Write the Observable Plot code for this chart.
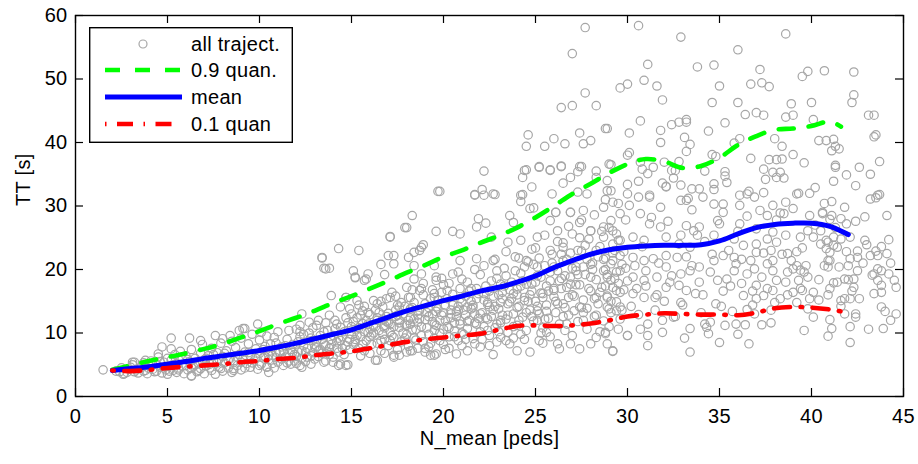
<!DOCTYPE html>
<html>
<head>
<meta charset="utf-8">
<script src="https://cdn.jsdelivr.net/npm/d3@7"></script>
<script src="https://cdn.jsdelivr.net/npm/@observablehq/plot@0.6"></script>
<style>
  body { margin: 0; background: #fff; }
  #wrap { position: relative; width: 918px; height: 464px; font-family: "Liberation Sans", Arial, Helvetica, sans-serif; }
  #legend { position: absolute; left: 89px; top: 27px; }
  svg text { letter-spacing: 0.3px; }
</style>
</head>
<body>
<div id="wrap"><div id="chart"></div><div id="legend"></div></div>
<script>
// ---- tick labels / axes ----
const xTicks = [0, 5, 10, 15, 20, 25, 30, 35, 40, 45];
const yTicks = [0, 10, 20, 30, 40, 50, 60];
const xLabel = "N_mean [peds]";
const yLabel = "TT [s]";
const seriesNames = ["all traject.", "0.9 quan.", "mean", "0.1 quan"];

// ---- curves ----
const meanX = [2,3,4,5,6,7,8,9,10,11,12,13,14,15,16,17,18,19,20,21,22,23,24,25,26,27,28,29,30,31,32,33,34,35,36,37,38,39,40,41,42];
const meanY = [4.1,4.4,4.7,5.1,5.5,6.0,6.4,6.8,7.25,7.8,8.4,9.1,9.8,10.5,11.5,12.5,13.5,14.3,15.1,15.8,16.6,17.2,18.0,19.0,20.3,21.4,22.4,23.1,23.5,23.7,23.8,23.8,23.9,24.5,25.6,26.6,27.1,27.3,27.3,26.8,25.5];

const q90X = [2,3,4,5,6,7,8,9,10,11,12,13,14,15,16,17,18,19,20,21,22,23,24,25,26,27,28,29,30,31,32,33,34,35,36,37,38,39,40,41,41.6];
const q90Y = [4.2,4.9,5.6,6.2,6.8,7.5,8.3,9.3,10.3,11.4,12.4,13.5,14.7,15.8,17.0,18.2,19.5,20.7,22.0,23.0,24.2,25.3,26.6,28.2,30.0,31.9,33.5,35.2,36.6,37.4,37.0,36.0,36.3,37.6,39.6,41.0,42.0,42.2,42.6,43.3,42.5];

const q10X = [2,3,4,5,6,7,8,9,10,11,12,13,14,15,16,17,18,19,20,21,22,23,24,25,26,27,28,29,30,31,32,33,34,35,36,37,38,39,40,41,41.8];
const q10Y = [4.1,4.0,4.2,4.5,4.7,4.9,5.1,5.4,5.6,5.9,6.1,6.5,6.8,7.1,7.6,8.1,8.6,9.0,9.3,9.6,9.9,10.5,11.1,11.2,11.1,11.2,11.5,12.0,12.6,12.9,13.1,13.0,12.9,12.9,12.8,13.2,13.9,14.1,14.0,13.7,13.3];

// ---- scatter: all trajectories, [N_mean, TT] ----
const ptsLow = [
[1.5,4.2],[2.2,4.0],[2.4,3.9],[2.5,4.5],[2.6,3.5],[2.65,3.6],[2.8,3.8],[2.9,4.3],[3.0,4.6],[3.1,5.0],[3.1,5.4],[3.2,3.9],[3.2,5.4],[3.3,4.2],[3.4,3.7],[3.5,4.5],[3.6,4.8],[3.7,5.3],[3.7,4.0],[3.8,4.1],[3.8,5.7],[3.9,3.6],[4.0,4.9],[4.0,4.4],[4.1,5.6],[4.2,4.3],[4.2,5.0],[4.3,3.9],[4.4,5.1],[4.4,4.0],[4.5,6.2],[4.5,6.7],[4.6,4.6],[4.6,5.5],[4.7,3.7],[4.7,7.8],[4.8,5.4],[4.8,4.5],[4.9,4.2],[5.0,6.0],[5.0,3.5],[5.1,4.8],[5.1,4.0],[5.2,5.7],[5.2,9.2],[5.2,7.5],[5.3,4.1],[5.3,5.0],[5.4,6.6],[5.5,3.8],[5.5,5.2],[5.6,4.5],[5.6,4.2],[5.7,7.1],[5.8,5.9],[5.8,4.8],[5.9,3.6],[6.0,4.9],[6.0,6.4],[6.1,4.2],[6.1,5.8],[6.2,5.5],[6.2,9.2],[6.3,7.4],[6.3,3.3],[6.3,4.5],[6.3,3.2],[6.4,4.7],[6.5,6.0],[6.5,5.0],[6.6,3.9],[6.7,5.2],[6.7,4.1],[6.8,6.8],[6.8,4.4],[6.8,8.8],[6.9,8.2],[6.9,5.5],[7.0,5.8],[7.0,3.6],[7.1,4.8],[7.1,6.0],[7.2,6.4],[7.3,5.1],[7.3,4.5],[7.4,7.6],[7.4,4.1],[7.5,5.6],[7.5,6.6],[7.6,3.5],[7.6,9.6],[7.7,6.9],[7.7,5.3],[7.8,4.6],[7.8,5.9],[7.9,8.4],[7.9,4.4],[8.0,4.0],[8.0,6.3],[8.0,9.1],[8.1,5.3],[8.1,6.8],[8.2,7.2],[8.3,4.5],[8.3,5.7],[8.4,6.0],[8.4,9.6],[8.5,8.7],[8.5,3.8],[8.6,5.6],[8.6,4.1],[8.6,4.4],[8.7,7.7],[8.8,4.9],[8.8,6.2],[8.9,6.6],[8.9,10.4],[9.0,9.2],[9.0,4.2],[9.0,5.4],[9.1,5.9],[9.1,10.7],[9.2,7.0],[9.2,10.7],[9.2,4.5],[9.3,5.2],[9.4,8.3],[9.4,6.9],[9.5,4.6],[9.5,6.4],[9.6,9.8],[9.6,5.3],[9.7,5.6],[9.8,7.5],[9.8,6.0],[9.9,4.3],[9.9,11.4],[10.0,6.8],[10.0,8.9],[10.0,4.9],[10.1,5.1],[10.1,10.1],[10.2,6.1],[10.2,7.4],[10.3,7.9],[10.4,4.7],[10.4,9.5],[10.4,4.6],[10.5,5.8],[10.5,3.8],[10.5,6.5],[10.6,7.2],[10.7,6.5],[10.7,5.2],[10.8,4.5],[10.8,9.3],[10.9,8.4],[10.9,7.0],[11.0,5.4],[11.0,10.2],[11.1,6.9],[11.2,7.8],[11.2,5.9],[11.3,4.9],[11.4,6.2],[11.4,8.0],[11.5,9.0],[11.6,5.6],[11.6,10.4],[11.6,6.8],[11.7,7.4],[11.7,5.1],[11.8,8.2],[11.9,6.6],[11.9,5.6],[12.0,10.6],[12.0,5.2],[12.1,7.0],[12.1,8.6],[12.2,9.4],[12.2,4.9],[12.2,11.2],[12.3,6.0],[12.3,13.0],[12.3,4.6],[12.3,7.2],[12.4,8.0],[12.5,5.5],[12.6,7.6],[12.6,6.2],[12.7,10.0],[12.7,11.7],[12.8,6.4],[12.8,5.1],[12.8,9.2],[12.9,8.8],[13.0,5.9],[13.0,7.8],[13.1,11.2],[13.1,7.8],[13.2,7.2],[13.2,12.0],[13.2,6.3],[13.3,9.6],[13.4,6.8],[13.4,9.0],[13.5,8.3],[13.5,5.4],[13.6,5.6],[13.6,8.0],[13.7,10.4],[13.8,7.6],[13.8,12.8],[13.8,6.6],[13.9,9.0],[13.9,15.9],[14.0,6.2],[14.0,9.6],[14.0,5.4],[14.1,12.0],[14.2,8.6],[14.2,7.6],[14.3,7.0],[14.3,4.9],[14.4,10.9],[14.4,8.8],[14.4,14.1],[14.4,5.1],[14.5,9.4],[14.6,6.6],[14.6,10.2],[14.7,8.0],[14.7,15.6],[14.7,4.9],[14.8,11.6],[14.8,8.6],[14.8,5.0],[14.9,7.4],[15.0,9.8],[15.0,13.0],[15.0,11.0]
];

const ptsHighLeft = [
[13.4,21.9],[13.4,21.8],[13.5,20.2],[13.6,20.1],[13.8,20.2],[14.3,23.3],[15.4,23.0],[15.1,19.8],[15.2,18.8],[15.2,18.7],[15.9,19.3],[15.7,18.3],[15.8,18.5],[16.8,19.2],[16.6,20.8],[17.0,22.2],[17.3,22.2],[17.3,20.9],[17.1,25.2],[17.1,25.1],[17.9,26.6],[18.0,26.6],[18.3,28.5],[18.1,21.9],[18.4,22.7],[18.8,23.5],[18.9,23.9],[18.4,18.5],[18.8,19.3],[19.6,26.0],[19.6,18.3],[19.7,32.3],[19.8,32.3],[20.5,26.0],[20.9,25.6],[21.7,31.8],[21.7,31.7],[22.1,32.6],[22.2,31.7],[22.2,35.5],[22.7,31.9],[22.8,31.8],[21.8,26.7],[21.9,28.0],[22.3,27.3],[22.6,25.1],[23.5,24.3],[23.6,28.5],[23.8,27.4],[18.7,23.0],[18.4,20.6],[19.5,20.6],[20.9,21.4],[21.8,21.7],[22.7,21.4],[15.3,15.1],[14.7,15.6]
];

const ptsMid = [
[15.1,8.2],[15.2,10.6],[15.2,9.0],[15.3,12.4],[15.4,7.6],[15.4,10.8],[15.5,9.4],[15.6,11.5],[15.6,13.5],[15.6,8.2],[15.7,14.2],[15.7,7.2],[15.8,8.8],[15.8,12.0],[15.9,10.1],[16.0,12.9],[16.0,6.8],[16.0,9.4],[16.1,9.7],[16.2,11.1],[16.2,15.1],[16.2,10.0],[16.3,13.6],[16.3,5.7],[16.4,8.4],[16.4,12.0],[16.4,5.7],[16.4,12.4],[16.5,10.4],[16.6,15.0],[16.6,7.2],[16.6,8.8],[16.7,12.2],[16.7,14.1],[16.8,9.0],[16.8,10.8],[16.9,11.8],[17.0,13.1],[17.0,8.0],[17.0,11.6],[17.1,10.2],[17.1,15.6],[17.1,11.4],[17.2,16.4],[17.2,9.6],[17.3,9.3],[17.3,6.2],[17.3,6.5],[17.4,12.6],[17.4,13.6],[17.5,7.4],[17.5,14.4],[17.6,10.9],[17.6,14.1],[17.6,6.5],[17.6,12.0],[17.7,8.6],[17.8,13.0],[17.8,10.0],[17.9,11.4],[18.0,9.8],[18.0,17.2],[18.0,11.2],[18.1,7.9],[18.1,15.6],[18.2,12.4],[18.2,15.6],[18.2,11.4],[18.2,7.2],[18.2,13.8],[18.3,10.5],[18.3,7.2],[18.4,14.8],[18.4,9.2],[18.5,8.9],[18.6,11.7],[18.6,13.5],[18.6,12.8],[18.7,13.6],[18.7,16.7],[18.8,9.6],[18.8,17.0],[18.8,11.0],[18.9,16.0],[19.0,7.6],[19.0,12.1],[19.0,14.6],[19.1,10.8],[19.2,14.0],[19.2,9.8],[19.3,8.4],[19.3,6.5],[19.4,13.0],[19.4,11.8],[19.5,9.2],[19.5,16.2],[19.5,15.6],[19.5,11.4],[19.5,6.5],[19.6,11.2],[19.6,14.1],[19.6,18.8],[19.6,13.4],[19.6,6.7],[19.7,15.2],[19.8,10.0],[19.8,12.0],[19.9,12.8],[20.0,8.2],[20.0,17.6],[20.0,10.6],[20.1,14.3],[20.2,11.0],[20.2,16.7],[20.2,15.4],[20.3,9.4],[20.4,12.4],[20.4,13.0],[20.4,13.6],[20.5,16.1],[20.5,19.3],[20.6,10.3],[20.6,11.6],[20.7,13.4],[20.7,6.7],[20.8,8.8],[20.8,14.2],[20.9,11.9],[20.9,15.4],[20.9,11.4],[21.0,14.9],[21.0,18.5],[21.0,10.0],[21.1,9.8],[21.2,12.8],[21.2,15.8],[21.3,10.7],[21.3,14.1],[21.3,7.2],[21.4,16.6],[21.4,12.0],[21.5,13.8],[21.5,17.0],[21.6,9.1],[21.6,14.4],[21.7,11.6],[21.7,8.3],[21.8,15.4],[21.8,11.4],[21.8,17.0],[21.9,12.3],[22.0,10.2],[22.0,19.2],[22.0,13.0]
];

const ptsMid2 = [
[22.1,13.2],[22.2,11.0],[22.2,15.2],[22.2,16.2],[22.3,17.4],[22.4,14.5],[22.4,12.2],[22.5,9.6],[22.5,14.1],[22.5,8.0],[22.6,12.6],[22.6,18.2],[22.7,15.8],[22.7,6.6],[22.8,10.8],[22.8,14.2],[22.9,18.6],[22.9,19.8],[23.0,13.8],[23.0,16.0],[23.1,11.6],[23.1,17.7],[23.1,12.0],[23.1,9.3],[23.2,16.4],[23.2,12.8],[23.3,20.2],[23.4,12.2],[23.4,19.0],[23.5,10.1],[23.5,14.6],[23.6,14.9],[23.6,16.8],[23.6,8.3],[23.7,18.0],[23.8,13.0],[23.8,11.0],[23.8,16.2],[23.9,22.0],[24.0,11.2],[24.0,16.9],[24.0,14.0],[24.0,7.2],[24.1,14.2],[24.2,19.4],[24.2,17.4],[24.2,24.6],[24.3,12.5],[24.4,15.6],[24.4,20.4],[24.4,15.1],[24.5,10.4],[24.5,21.4],[24.5,17.7],[24.6,21.2],[24.6,15.0],[24.7,13.6],[24.7,7.0],[24.7,29.6],[24.8,17.7],[24.8,12.6],[24.9,11.9],[24.9,29.7],[25.0,15.0],[25.0,23.4],[25.0,18.0],[25.1,19.0],[25.1,25.1],[25.1,20.4],[25.1,13.5],[25.1,12.0],[25.2,13.0],[25.2,21.8],[25.2,8.8],[25.3,16.3],[25.4,10.8],[25.4,16.2],[25.4,15.6],[25.4,8.4],[25.5,20.6],[25.6,14.4],[25.6,13.4],[25.6,10.1],[25.7,12.3],[25.8,18.2],[25.8,19.6],[25.8,23.0],[25.8,27.7],[25.9,22.4],[26.0,15.7],[26.0,17.0],[26.0,20.4],[26.0,16.7],[26.1,13.2],[26.1,29.0],[26.2,19.8],[26.2,14.6],[26.2,26.1],[26.2,8.3],[26.3,11.4],[26.3,7.5],[26.4,17.0],[26.4,22.4],[26.5,24.2],[26.5,23.5],[26.5,21.4],[26.5,14.6],[26.6,14.0],[26.6,19.0],[26.7,21.6],[26.7,11.4],[26.8,12.8],[26.8,15.6],[26.9,18.8],[26.9,17.7],[26.9,29.0],[26.9,8.3],[27.0,16.0],[27.0,25.6],[27.0,20.2],[27.1,13.5],[27.2,20.4],[27.2,17.6],[27.3,11.8],[27.3,23.0],[27.4,17.6],[27.4,25.0],[27.4,27.4],[27.4,14.1],[27.4,7.5],[27.5,22.9],[27.6,15.2],[27.6,13.2],[27.6,20.4],[27.6,12.0],[27.6,29.3],[27.7,19.2],[27.8,13.9],[27.8,21.6],[27.9,24.8],[28.0,16.6],[28.0,18.8],[28.0,26.1],[28.0,8.3],[28.1,21.0],[28.2,12.6],[28.2,15.4],[28.3,18.4],[28.3,23.0],[28.3,15.6],[28.3,9.3],[28.4,14.6],[28.4,22.0],[28.5,23.6],[28.6,17.2],[28.6,26.0],[28.7,11.9],[28.7,26.7],[28.7,19.8],[28.7,25.1],[28.7,29.8],[28.8,20.0],[28.8,17.4],[28.8,10.1],[28.8,9.9],[28.9,15.8],[28.9,14.1],[28.9,18.8],[28.9,15.6],[28.9,8.3],[29.0,26.6],[29.0,13.8],[29.1,13.2],[29.1,18.3],[29.1,20.9],[29.1,27.7],[29.2,22.6],[29.2,24.0],[29.2,21.4],[29.2,17.2],[29.2,26.1],[29.2,7.2],[29.2,7.1],[29.3,18.6],[29.4,14.9],[29.4,19.6],[29.4,16.7],[29.4,13.5],[29.4,25.6],[29.5,24.6],[29.6,12.2],[29.6,16.4],[29.6,14.1],[29.6,19.8],[29.6,24.6],[29.6,28.8],[29.7,20.8],[29.8,16.8],[29.8,22.8],[29.9,27.8],[30.0,18.2],[30.0,9.6]
];

const ptsCore = [
[10.3,6.3],[10.6,8.3],[10.9,6.1],[11.3,7.2],[11.5,5.3],[11.8,7.0],[12.0,6.3],[12.4,9.8],[12.5,7.0],[12.9,6.9],[13.1,8.6],[13.3,7.4],[13.5,10.2],[13.7,7.0],[13.9,8.2],[14.1,10.6],[14.3,9.2],[14.5,7.6],[14.7,12.4],[14.9,9.0],
[15.1,11.8],[15.3,9.6],[15.5,12.8],[15.7,10.2],[15.9,11.4],[16.1,8.2],[16.3,11.0],[16.5,13.2],[16.7,9.8],[16.9,12.6],[17.1,8.8],[17.3,11.0],[17.5,12.8],[17.7,14.8],[17.9,9.2],[18.1,12.0],[18.3,14.0],[18.5,10.6],[18.7,12.2],[18.9,8.6],[19.1,13.2],[19.3,15.4],[19.5,10.4],[19.7,13.8],[19.9,16.4],[20.1,12.0],[20.3,10.8],[20.5,14.4],[20.7,12.6],[20.9,17.0],[21.1,13.6],[21.3,11.8],[21.5,15.0],[21.7,13.0],[21.9,16.2],[22.1,9.0],[21.2,9.0],[20.6,9.4],[19.8,8.8],[19.2,7.8],[18.6,7.6],
[22.3,12.4],[22.5,16.6],[22.7,13.6],[22.9,11.4],[23.1,14.8],[23.3,17.4],[23.5,12.8],[23.7,15.4],[23.9,19.8],[24.1,12.0],[24.3,18.2],[24.5,13.2],[24.7,16.0],[24.9,20.8],[25.1,14.2],[25.3,18.8],[25.5,12.2],[25.7,16.6],[25.9,21.0],[26.1,15.0],[26.3,18.2],[26.5,12.6],[26.7,17.2],[26.9,22.6],[27.1,15.8],[27.3,19.2],[27.5,14.0],[27.7,23.8],[27.9,17.0],[28.1,20.0],[28.3,12.8],[28.5,16.4],[28.7,21.6],[28.9,19.2],[29.1,15.0],[29.3,23.0],[29.5,17.8],[29.7,13.6],[29.9,20.2],[23.0,10.2],[24.2,9.8],[25.3,10.0],[26.6,10.4],[27.8,10.6],[29.0,11.0],[22.4,10.4],[23.8,9.2],
[30.5,17.0],[31.0,19.8],[31.6,16.0],[32.3,18.0],[32.9,14.8],[33.5,20.6],[34.1,16.0],[34.6,22.4],[35.1,14.2],[35.6,17.4],[36.2,21.6],[36.8,16.6],[37.4,22.6],[38.0,14.8],[38.6,18.0],[39.2,22.8],[39.8,13.8],[40.4,18.4],[40.9,16.0],[30.7,10.6],[31.9,12.0],[33.1,9.2],[34.2,11.4],[36.0,9.8],[37.8,11.6],[39.6,10.4]
];

const ptsBand = [
[12.2,10.2],[12.9,10.8],[13.6,11.6],[14.2,11.4],[14.9,13.8],[15.4,14.4],[15.9,13.2],[16.4,14.6],[16.9,15.4],[17.4,15.8],[17.9,14.2],[18.3,16.8],[18.9,17.8],[19.4,16.8],[19.9,18.6],[20.3,17.8],[20.8,19.6],[21.3,18.0],[21.7,20.0],[22.2,20.6],[22.8,21.6],[23.4,22.8],[24.1,21.8],[24.8,23.2],[25.5,25.4],[26.2,24.4],[26.8,26.8],[27.5,27.8],[28.2,28.6],[28.8,31.0],[29.5,30.4],
[15.5,6.4],[16.8,6.8],[18.0,7.0],[19.0,7.0],[20.3,7.6],[21.0,8.0],[22.0,7.8],[22.9,8.6],[24.4,9.0],[25.8,9.4],[27.0,9.6],[28.5,10.2],[29.5,10.6],[20.1,7.4],[23.4,8.8],
[15.2,8.6],[16.0,10.6],[16.8,11.2],[17.6,11.6],[18.4,12.2],[19.2,12.6],[20.0,13.2],[20.8,13.6],[21.6,14.0],[22.4,14.8],[23.2,15.4],[24.0,16.0],[24.8,16.6],[25.6,17.4],[26.4,18.6],[27.2,19.8],[28.0,20.8],[28.8,21.8],[29.6,22.2]
];

const ptsHighMid = [
[24.3,31.8],[24.2,31.7],[24.2,30.7],[24.3,34.5],[24.4,35.6],[24.5,35.7],[24.5,39.4],[24.6,41.2],[24.8,33.0],[25.2,36.1],[25.2,36.2],[25.5,39.4],[25.8,35.7],[25.8,35.6],[25.9,31.9],[26.0,40.6],[26.1,29.0],[26.4,36.3],[26.4,36.2],[26.4,45.5],[26.5,33.6],[26.6,39.8],[26.9,34.5],[26.9,29.0],[27.0,45.8],[27.0,54.0],[27.3,35.4],[27.3,32.2],[27.4,41.5],[27.4,36.2],[27.5,36.2],[27.6,39.8],[27.7,47.8],[27.7,58.1],[27.8,31.9],[28.0,40.3],[28.0,26.1],[28.3,45.8],[28.3,35.5],[28.3,34.5],[28.8,42.2],[28.9,42.2],[28.9,32.4],[28.9,34.0],[29.0,36.6],[29.1,36.5],[29.1,32.4],[29.2,30.6],[29.6,48.6],[30.0,49.2],[30.0,38.0],[30.1,38.4],[30.1,41.5],[30.0,33.4],[30.0,31.9],[30.1,30.1],[30.6,58.4],[30.6,33.9],[30.6,31.4],[30.7,43.4],[30.7,36.9],[30.7,28.8],[30.8,35.8],[30.9,49.8],[31.1,52.3],[31.1,35.1],[31.2,31.4],[31.2,31.7],[31.4,36.1],[31.6,48.9],[31.8,41.9],[31.8,40.0],[31.8,29.8],[31.9,46.7],[31.9,33.6],[32.0,36.9],[32.1,33.1],[32.1,33.0],[32.4,42.8],[32.4,35.6],[32.5,34.4],[32.6,35.6],[32.8,43.2],[32.8,37.0],[32.9,56.6],[32.9,33.3],[32.9,30.9],[33.1,40.8],[33.2,43.6],[33.2,43.2],[33.2,38.6],[33.2,30.9],[33.3,31.2],[33.4,39.7],[33.5,32.7],[33.8,51.9],[33.9,32.7],[34.1,31.4],[34.2,35.5],[34.4,41.8],[34.6,46.3],[34.6,38.1],[34.7,52.2],[34.7,33.5],[34.7,32.6],[34.7,30.3],[34.8,37.8],[35.0,48.9],[35.2,30.3],[35.3,43.1],[35.3,35.4],[35.3,34.7],[35.4,33.7],[35.8,39.9],[36.0,54.6],[36.0,46.3],[36.1,40.6],[36.1,31.7],[36.1,30.1],[36.4,44.4],[36.5,31.9],[36.6,32.3],[36.7,49.2],[36.7,37.5],[36.9,31.4],[37.0,44.7],[37.2,51.5],[37.2,29.3],[37.3,49.4],[37.4,44.3],[37.4,35.8],[37.4,32.1],[37.5,34.2],[37.7,48.8],[37.7,37.3],[37.9,35.3],[37.9,30.1],[38.0,40.6],[38.1,37.3],[38.1,34.5],[38.3,35.3],[38.4,37.4],[38.4,39.4],[38.5,34.4],[38.6,57.1],[38.6,44.0],[38.6,30.6],[38.9,46.1],[39.0,44.3],[39.0,38.1],[39.2,31.9],[39.3,32.0],[39.5,50.4],[39.6,36.8],[39.8,51.2],[39.9,32.0],[40.0,46.3],[40.1,43.6],[40.2,32.9],[40.4,40.3],[40.6,29.0],[40.7,51.3],[40.8,40.3],[41.0,27.9],[41.1,38.7],[41.1,30.7],[41.2,40.5],[41.3,39.4],[41.3,36.1],[41.3,36.4],[41.2,33.9],[41.5,39.0],[41.9,34.9],[42.2,46.3],[42.3,47.5],[42.3,51.1],[42.4,33.2],[42.4,27.6],[42.6,36.1],[42.9,28.3],[43.1,44.3],[43.2,35.0],[43.2,31.1],[43.4,44.3],[43.4,40.9],[43.5,41.2],[43.5,31.3],[43.6,31.7],[43.7,37.0],[43.7,31.8],[44.1,28.5]
];

const ptsRight = [
[30.0,9.6],[30.2,14.2],[30.3,16.2],[30.3,18.8],[30.3,21.9],[30.3,25.1],[30.4,20.6],[30.6,12.9],[30.8,23.6],[30.9,15.6],[30.9,18.3],[30.9,21.4],[30.9,24.6],[31.0,17.4],[31.1,8.0],[31.1,9.6],[31.1,11.4],[31.2,27.2],[31.3,28.2],[31.4,21.7],[31.5,13.6],[31.5,15.6],[31.6,18.8],[31.7,21.0],[31.8,26.7],[31.9,10.1],[32.0,15.0],[32.1,17.2],[32.1,20.4],[32.1,22.2],[32.1,25.1],[32.2,27.6],[32.4,19.0],[32.5,12.5],[32.6,12.6],[32.7,21.9],[32.8,17.5],[32.8,24.0],[32.9,19.3],[32.9,25.4],[33.0,14.4],[33.2,16.7],[33.2,22.0],[33.2,26.9],[33.4,7.0],[33.4,10.7],[33.4,19.8],[33.4,23.5],[33.5,29.4],[33.6,26.1],[33.7,16.2],[33.8,25.4],[33.9,18.0],[33.9,20.4],[33.9,26.7],[34.0,13.2],[34.2,24.4],[34.3,10.9],[34.4,9.9],[34.5,11.7],[34.5,19.6],[34.7,21.4],[34.7,25.4],[34.8,14.6],[34.9,18.3],[34.9,27.7],[35.0,27.2],[35.0,8.5],[35.2,16.6],[35.2,22.2],[35.2,29.0],[35.3,11.2],[35.4,18.5],[35.5,23.0],[35.7,13.4],[35.8,19.8],[35.8,21.9],[35.8,24.8],[35.9,20.9],[35.9,11.4],[36.0,26.0],[36.1,27.2],[36.2,17.8],[36.3,15.9],[36.3,23.8],[36.4,11.3],[36.5,13.7],[36.5,19.3],[36.5,28.4],[36.6,8.3],[36.7,21.4],[36.8,14.4],[36.9,13.0],[36.9,20.1],[37.0,17.5],[37.0,15.4],[37.0,24.0],[37.0,22.7],[37.0,26.4],[37.3,11.3],[37.3,18.8],[37.4,15.9],[37.6,17.0],[37.6,20.9],[37.6,24.8],[37.6,28.5],[37.8,13.6],[37.8,23.0],[37.9,16.7],[37.9,19.8],[37.9,21.4],[37.9,25.9],[38.1,18.3],[38.1,24.3],[38.1,27.8],[38.3,15.4],[38.3,28.9],[38.4,22.4],[38.5,28.8],[38.6,25.4],[38.7,16.0],[38.7,19.6],[38.7,22.5],[38.9,21.4],[39.0,16.4],[39.0,20.1],[39.0,29.6],[39.2,14.8],[39.2,20.6],[39.3,18.3],[39.4,17.0],[39.4,19.9],[39.4,25.1],[39.5,16.7],[39.5,23.4],[39.6,19.6],[39.7,20.6],[39.8,18.8],[39.8,26.1],[39.9,15.4],[39.9,28.5],[40.1,12.5],[40.1,16.4],[40.1,25.1],[40.2,27.0],[40.4,15.2],[40.5,24.0],[40.5,26.1],[40.6,28.8],[40.7,20.6],[40.7,30.4],[40.8,23.3],[40.8,24.6],[40.9,9.5],[40.9,20.4],[40.9,21.4],[40.9,24.3],[41.0,12.1],[41.0,17.0],[41.0,21.4],[41.0,22.7],[41.1,10.7],[41.1,28.5],[41.2,17.9],[41.2,23.8],[41.2,25.1],[41.3,26.6],[41.4,18.0],[41.4,23.5],[41.5,20.4],[41.6,14.2],[41.6,15.1],[41.6,24.8],[41.6,28.0],[41.8,13.0],[41.8,15.4],[41.8,18.5],[41.8,29.8],[41.9,22.8],[41.9,27.2],[42.0,18.4],[42.0,20.6],[42.1,8.5],[42.1,11.0],[42.1,15.4],[42.1,21.7],[42.1,25.1],[42.2,16.6],[42.3,18.5],[42.3,17.2],[42.4,13.0],[42.4,12.5],[42.5,19.8],[42.5,21.9],[42.5,22.9],[42.6,15.4],[42.8,21.0],[42.9,24.6],[43.0,23.9],[43.1,10.6],[43.2,22.2],[43.3,19.1],[43.4,19.3],[43.4,16.2],[43.5,22.9],[43.6,22.2],[43.6,20.1],[43.6,18.3],[43.8,23.6],[43.8,19.8],[43.8,17.5],[43.8,16.4],[43.8,14.1],[43.9,10.7],[44.0,13.4],[44.1,22.5],[44.2,24.7],[44.2,19.3],[44.3,21.0],[44.3,12.0],[44.5,18.3],[44.6,17.2],[44.6,13.0]
];

const allPts = [...ptsLow, ...ptsHighLeft, ...ptsMid, ...ptsMid2, ...ptsCore, ...ptsBand, ...ptsHighMid, ...ptsRight];
const curve = (xs, ys) => xs.map((x, i) => ({x, y: ys[i]}));

const W = 918, H = 464, mL = 75, mR = 15, mT = 15, mB = 68;
const fw = W - mL - mR, fh = H - mT - mB, tk = 8;
const font = '"Liberation Sans", Arial, Helvetica, sans-serif';
const FS = 20;
const C_SCAT = "#a6a6a6", C_90 = "#00ff00", C_MEAN = "#0000ff", C_10 = "#ff0000";
const DASH_90 = "15,15", DASH_10 = "1.5,10.5,16,10.5";

const chart = Plot.plot({
  width: W, height: H,
  marginLeft: mL, marginRight: mR, marginTop: mT, marginBottom: mB,
  style: {fontFamily: font, fontSize: FS + "px", background: "white", color: "black"},
  x: {domain: [0, 45]},
  y: {domain: [0, 60]},
  marks: [
    Plot.dot(allPts, {x: d => d[0], y: d => d[1], r: 4.2, stroke: C_SCAT, strokeWidth: 1.2, fill: "none"}),
    Plot.line(curve(q90X, q90Y), {x: "x", y: "y", stroke: C_90, strokeWidth: 4.6, strokeDasharray: DASH_90, curve: "catmull-rom"}),
    Plot.line(curve(meanX, meanY), {x: "x", y: "y", stroke: C_MEAN, strokeWidth: 5, curve: "catmull-rom"}),
    Plot.line(curve(q10X, q10Y), {x: "x", y: "y", stroke: C_10, strokeWidth: 4.6, strokeDasharray: DASH_10, curve: "catmull-rom"}),
    Plot.ruleX(xTicks, {x: d => d, insetTop: fh - tk, stroke: "black", strokeWidth: 1.2}),
    Plot.ruleX(xTicks, {x: d => d, insetBottom: fh - tk, stroke: "black", strokeWidth: 1.2}),
    Plot.ruleY(yTicks, {y: d => d, insetRight: fw - tk, stroke: "black", strokeWidth: 1.2}),
    Plot.ruleY(yTicks, {y: d => d, insetLeft: fw - tk, stroke: "black", strokeWidth: 1.2}),
    Plot.frame({stroke: "black", strokeWidth: 1.4}),
    Plot.axisX({ticks: xTicks, tickSize: 0, tickPadding: 12, label: null, fontSize: FS, fill: "black"}),
    Plot.axisY({ticks: yTicks, tickSize: 0, tickPadding: 8, label: null, fontSize: FS, fill: "black"}),
    Plot.text([xLabel], {text: d => d, frameAnchor: "bottom", dy: 48, fontSize: FS, fill: "black"}),
    Plot.text([yLabel], {text: d => d, frameAnchor: "left", dx: -52, rotate: -90, fontSize: FS, fill: "black"})
  ]
});
document.getElementById("chart").appendChild(chart);

// ---- legend (inside plot, upper left) ----
const lg = d3.select("#legend").append("svg").attr("width", 204).attr("height", 116)
  .style("font-family", font).style("font-size", FS + "px");
lg.append("rect").attr("x", 0.7).attr("y", 0.7).attr("width", 202.6).attr("height", 114.6)
  .attr("fill", "white").attr("stroke", "black").attr("stroke-width", 1.4);
const rows = [17, 43, 70, 97];
const styles = [
  {kind: "dot"},
  {stroke: C_90, dash: DASH_90, w: 4.6},
  {stroke: C_MEAN, dash: null, w: 5},
  {stroke: C_10, dash: DASH_10, w: 4.6}
];
seriesNames.forEach((name, i) => {
  const y = rows[i], s = styles[i];
  if (s.kind === "dot") {
    lg.append("circle").attr("cx", 54).attr("cy", y).attr("r", 4).attr("fill", "none")
      .attr("stroke", C_SCAT).attr("stroke-width", 1.2);
  } else {
    const ln = lg.append("line").attr("x1", 16).attr("x2", 93).attr("y1", y).attr("y2", y)
      .attr("stroke", s.stroke).attr("stroke-width", s.w);
    if (s.dash) ln.attr("stroke-dasharray", s.dash);
  }
  lg.append("text").attr("x", 102).attr("y", y).attr("dy", "0.35em").attr("fill", "black").text(name);
});
</script>
</body>
</html>
